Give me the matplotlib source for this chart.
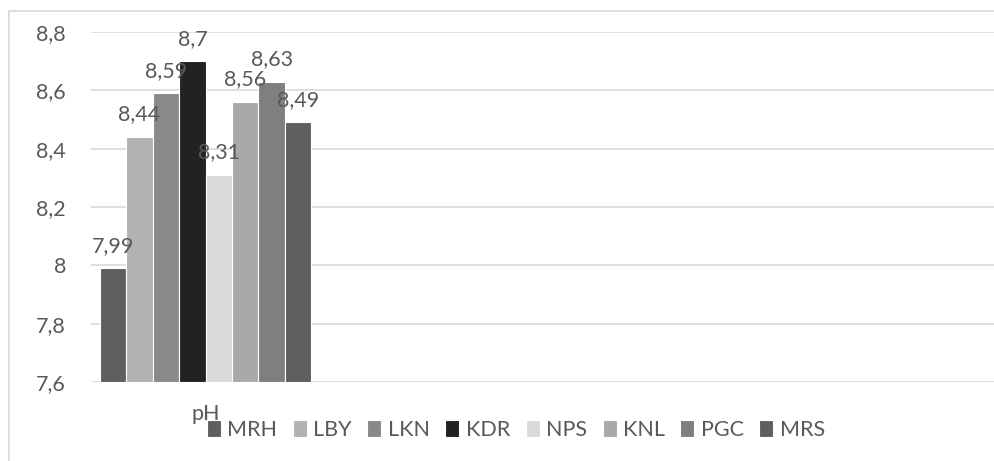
import matplotlib
matplotlib.use("Agg")
import matplotlib.pyplot as plt
from matplotlib.lines import Line2D

# data
category = "pH"
sites = ["MRH", "LBY", "LKN", "KDR", "NPS", "KNL", "PGC", "MRS"]
ph_values = [7.99, 8.44, 8.59, 8.70, 8.31, 8.56, 8.63, 8.49]
bar_colors = ["#5f5f5f", "#b2b2b2", "#898989", "#222222",
              "#d9d9d9", "#a9a9a9", "#7f7f7f", "#5f5f5f"]
yticks = [7.6, 7.8, 8.0, 8.2, 8.4, 8.6, 8.8]

plt.rcParams["font.family"] = ["Lato", "DejaVu Sans"]
text_color = "#595959"
grid_color = "#d9d9d9"
fs = 15.5

fig = plt.figure(figsize=(9.95, 4.61), dpi=100)
ax = fig.add_axes([91 / 995, 1 - 382 / 461, 1 - 91 / 995, (382 - 32) / 461])

# light frame around the chart (only left and top visible in the crop)
fig.add_artist(Line2D([9 / 995, 9 / 995], [0, 1 - 11 / 461], color=grid_color,
                      lw=1.2, transform=fig.transFigure))
fig.add_artist(Line2D([9 / 995, 1], [1 - 11 / 461, 1 - 11 / 461], color=grid_color,
                      lw=1.2, transform=fig.transFigure))

for i, (name, val, col) in enumerate(zip(sites, ph_values, bar_colors)):
    ax.bar(i, val - 7.6, bottom=7.6, width=1.0, color=col, edgecolor="white",
           linewidth=0.8, label=name, zorder=3)
    label = f"{val:g}".replace(".", ",")
    ax.annotate(label, (i, val), xytext=(0, 9), textcoords="offset points",
                ha="center", va="bottom", fontsize=fs, color=text_color, zorder=4)

ax.set_xlim(-0.84, 33.4)
ax.set_ylim(7.6, 8.8)
ax.set_yticks(yticks)
ax.set_yticklabels([f"{t:g}".replace(".", ",") for t in yticks])
ax.set_xticks([3.5])
ax.set_xticklabels([category])
ax.tick_params(axis="both", length=0, labelsize=fs, labelcolor=text_color)
ax.tick_params(axis="y", pad=18)
ax.tick_params(axis="x", pad=16)
ax.grid(axis="y", color=grid_color, linewidth=1.2, zorder=0)
for s in ax.spines.values():
    s.set_visible(False)

leg = fig.legend(loc="center", bbox_to_anchor=(516 / 995, 1 - 430 / 461), ncol=8,
                 frameon=False, fontsize=fs, handlelength=0.65, handleheight=0.85,
                 handletextpad=0.3, columnspacing=0.72, labelcolor=text_color)

fig.savefig("out.png", dpi=100, facecolor="white")
